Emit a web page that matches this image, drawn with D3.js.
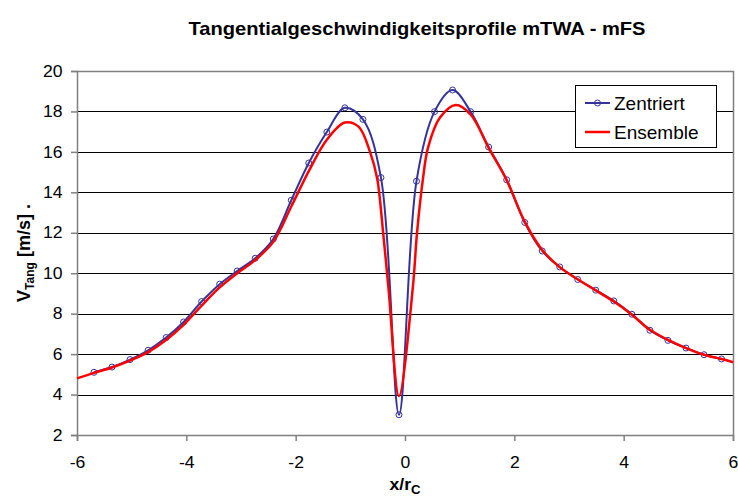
<!DOCTYPE html>
<html>
<head>
<meta charset="utf-8">
<script src="https://cdn.jsdelivr.net/npm/d3@7.9.0/dist/d3.min.js"></script>
<style>
  body { margin: 0; background: #fff; }
  svg { display: block; font-family: "Liberation Sans", Arial, sans-serif; }
</style>
</head>
<body>
<svg id="chart" width="738" height="497"></svg>
<script>
// Zentriert (markers)
const zentX = [-5.69, -5.36, -5.03, -4.70, -4.37, -4.05, -3.72, -3.39, -3.07, -2.74, -2.41, -2.08,
  -1.76, -1.43, -1.10, -0.77, -0.44, -0.11, 0.21, 0.54, 0.87, 1.20, 1.53, 1.86,
  2.19, 2.51, 2.83, 3.16, 3.49, 3.82, 4.15, 4.48, 4.81, 5.14, 5.47, 5.79];
const zentY = [5.10, 5.36, 5.73, 6.19, 6.82, 7.59, 8.60, 9.46, 10.11, 10.74, 11.69, 13.61,
  15.45, 16.98, 18.18, 17.61, 14.73, 3.00, 14.55, 17.99, 19.06, 17.99, 16.24, 14.62,
  12.51, 11.10, 10.31, 9.69, 9.16, 8.63, 7.97, 7.18, 6.68, 6.30, 5.97, 5.76];

// Ensemble (line only)
const ensX = [-6.00, -5.69, -5.36, -5.03, -4.70, -4.37, -4.05, -3.72, -3.39, -3.07, -2.74, -2.41,
  -2.08, -1.76, -1.43, -1.10, -0.85, -0.64, -0.51, -0.40, -0.30, -0.11, 0.14, 0.22,
  0.33, 0.42, 0.64, 0.93, 1.20, 1.53, 1.86, 2.19, 2.51, 2.83, 3.16, 3.49,
  3.82, 4.15, 4.48, 4.81, 5.14, 5.47, 5.79, 6.00];
const ensY = [4.80, 5.07, 5.34, 5.68, 6.10, 6.70, 7.45, 8.40, 9.30, 10.00, 10.65, 11.55,
  13.30, 15.05, 16.60, 17.45, 17.25, 16.00, 14.70, 12.00, 9.20, 3.93, 9.20, 12.00,
  14.70, 16.20, 17.70, 18.32, 17.85, 16.20, 14.60, 12.55, 11.15, 10.30, 9.70, 9.15,
  8.60, 7.95, 7.20, 6.70, 6.30, 5.97, 5.76, 5.60];

const xTicks = [-6, -4, -2, 0, 2, 4, 6];
const yTicks = [2, 4, 6, 8, 10, 12, 14, 16, 18, 20];
const seriesNames = ["Zentriert", "Ensemble"];

const blue = "#333399";
const red = "#ff0000";

const svg = d3.select("#chart");
const area = { left: 77, right: 733, top: 71, bottom: 435 };

const xScale = d3.scaleLinear().domain([-6, 6]).range([area.left, area.right]);
const yScale = d3.scaleLinear().domain([2, 20]).range([area.bottom, area.top]);

// gridlines
svg.append("g")
  .selectAll("line")
  .data(yTicks.filter((d) => d > 2 && d < 20))
  .join("line")
  .attr("x1", area.left).attr("x2", area.right)
  .attr("y1", (d) => Math.round(yScale(d)) + 0.5)
  .attr("y2", (d) => Math.round(yScale(d)) + 0.5)
  .attr("stroke", "#000")
  .attr("stroke-width", 1);

// plot border top/right
svg.append("path")
  .attr("d", `M${area.left},${area.top + 0.5}H${area.right + 0.5}V${area.bottom}`)
  .attr("fill", "none")
  .attr("stroke", "#808080")
  .attr("stroke-width", 1.5);

const sx = 1.1;
const stretch = `scale(${sx},1)`;
const fmt = (d) => String(d);

const yAxis = svg.append("g")
  .attr("transform", `translate(${area.left},0)`)
  .call(d3.axisLeft(yScale).tickValues(yTicks).tickFormat(fmt).tickSize(6));
const xAxis = svg.append("g")
  .attr("transform", `translate(0,${area.bottom})`)
  .call(d3.axisBottom(xScale).tickValues(xTicks).tickFormat(fmt).tickSize(6));

[yAxis, xAxis].forEach((g) => {
  g.select(".domain").attr("stroke", "#808080").attr("stroke-width", 1.5);
  g.selectAll(".tick line").attr("stroke", "#808080").attr("stroke-width", 1.5);
  g.selectAll(".tick text")
    .attr("fill", "#000")
    .style("font-size", "16px")
    .style("font-family", "'Liberation Sans', Arial, sans-serif");
});
yAxis.selectAll(".tick text").attr("transform", stretch).attr("x", -14.5 / sx);
xAxis.selectAll(".tick text").attr("transform", stretch).attr("y", 33).attr("dy", 0);

// lines
const line = d3.line()
  .x((d) => xScale(d[0]))
  .y((d) => yScale(d[1]))
  .curve(d3.curveCatmullRom.alpha(0.5));

const zent = zentX.map((x, i) => [x, zentY[i]]);
const ens = ensX.map((x, i) => [x, ensY[i]]);

svg.append("path")
  .datum(zent)
  .attr("d", line)
  .attr("fill", "none")
  .attr("stroke", blue)
  .attr("stroke-width", 2);

svg.append("g")
  .selectAll("circle")
  .data(zent)
  .join("circle")
  .attr("cx", (d) => xScale(d[0]))
  .attr("cy", (d) => yScale(d[1]))
  .attr("r", 3)
  .attr("fill", "none")
  .attr("stroke", blue)
  .attr("stroke-width", 1);

svg.append("path")
  .datum(ens)
  .attr("d", line)
  .attr("fill", "none")
  .attr("stroke", red)
  .attr("stroke-width", 2.5);

// title
svg.append("text")
  .attr("transform", `translate(417,35) scale(1.15,1)`)
  .attr("text-anchor", "middle")
  .style("font-size", "17.5px")
  .style("font-weight", "bold")
  .text("Tangentialgeschwindigkeitsprofile mTWA - mFS");

// y axis label
const yl = svg.append("text")
  .attr("transform", "translate(30,253) rotate(-90)")
  .attr("text-anchor", "middle")
  .style("font-size", "18px")
  .style("font-weight", "bold");
yl.append("tspan").text("V");
yl.append("tspan").attr("dy", 4).style("font-size", "12px").text("Tang");
yl.append("tspan").attr("dy", -4).text(" [m/s] .");

// x axis label
const xl = svg.append("text")
  .attr("transform", `translate(${xScale(0)},490) ${stretch}`)
  .attr("text-anchor", "middle")
  .style("font-size", "16px")
  .style("font-weight", "bold");
xl.append("tspan").text("x/r");
xl.append("tspan").attr("dy", 4).style("font-size", "12px").text("C");

// legend
const legend = svg.append("g").attr("transform", "translate(575,85)");
legend.append("rect")
  .attr("x", 0.5).attr("y", 0.5)
  .attr("width", 141).attr("height", 62)
  .attr("fill", "#fff")
  .attr("stroke", "#000");
seriesNames.forEach((name, i) => {
  const y = 18 + i * 29;
  legend.append("line")
    .attr("x1", 10).attr("x2", 35)
    .attr("y1", y).attr("y2", y)
    .attr("stroke", i === 0 ? blue : red)
    .attr("stroke-width", i === 0 ? 2 : 2.5);
  if (i === 0) {
    legend.append("circle")
      .attr("cx", 22.5).attr("cy", y).attr("r", 3)
      .attr("fill", "none").attr("stroke", blue);
  }
  legend.append("text")
    .attr("x", 39).attr("y", y + 7)
    .style("font-size", "19px")
    .text(name);
});
</script>
</body>
</html>
